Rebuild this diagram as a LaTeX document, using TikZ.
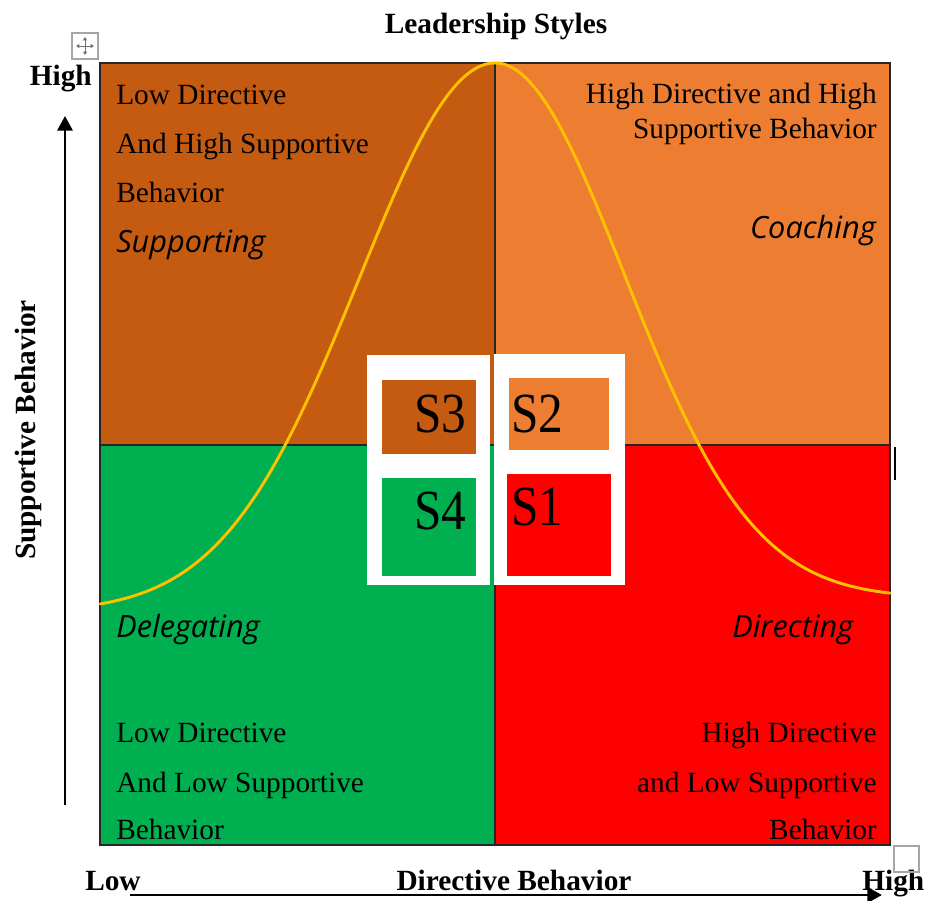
\documentclass[tikz,border=0pt]{standalone}
\usepackage{fontspec}
\setmainfont{Liberation Serif}
\newfontfamily\handfont{Open Sans}
\usetikzlibrary{arrows.meta}
\definecolor{qbrown}{HTML}{C55A11}
\definecolor{qorange}{HTML}{ED7D31}
\definecolor{qgreen}{HTML}{00B050}
\definecolor{qred}{HTML}{FF0000}
\definecolor{curvegold}{HTML}{FFC000}
\begin{document}
\begin{tikzpicture}[x=0.75pt,y=-0.75pt,
  body/.style={inner sep=0pt, font=\fontsize{22}{26}\selectfont},
  hand/.style={inner sep=0pt, font=\handfont\itshape\fontsize{23}{27}\selectfont},
  axislabel/.style={inner sep=0pt, font=\bfseries\fontsize{22}{26}\selectfont},
  slabel/.style={inner sep=0pt, font=\fontsize{37}{41}\selectfont},
  frame/.style={draw=black!85, line width=1pt},
  bell/.style={curvegold, line width=2.2pt, line cap=round},
  axisarrow/.style={line width=1.7pt, -{Triangle[length=11pt,width=11.5pt]}},
  handle/.style={draw=black!35, line width=0.8pt},
]
\useasboundingbox (0,0) rectangle (928,900);

% quadrant fills
\fill[qbrown]  (100,63)  rectangle (495,445);
\fill[qorange] (495,63)  rectangle (890,445);
\fill[qgreen]  (100,445) rectangle (495,845);
\fill[qred]    (495,445) rectangle (890,845);

% quadrant borders and dividers
\draw[frame] (100,63) rectangle (890,845);
\draw[frame] (495,63) -- (495,845);
\draw[frame] (100,445) -- (890,445);
\draw[line width=1.5pt] (895,447) -- (895,480);

% bell curve
\draw[bell] plot[domain=-3.95:0, samples=90, smooth]
  ({495+100*\x},{612-549*exp(-(\x*\x)/3.699)});
\draw[bell] plot[domain=0:3.95, samples=90, smooth]
  ({495+100*\x},{598-535*exp(-(\x*\x)/3.328)});

% style boxes S1..S4
\fill[white] (367,355) rectangle (490,585);
\fill[white] (494,354) rectangle (625,585);
\fill[qbrown]  (382,380) rectangle (476,454);
\fill[qgreen]  (382,478) rectangle (476,576);
\fill[qorange] (509,378) rectangle (609,450);
\fill[qred]    (507,474) rectangle (611,576);
\node[slabel, anchor=base west] (s3) at (414,432) {\scalebox{1}[1.15]{S3}};
\node[slabel, anchor=base west] (s2) at (511,432) {\scalebox{1}[1.15]{S2}};
\node[slabel, anchor=base west] (s4) at (414,529) {\scalebox{1}[1.15]{S4}};
\node[slabel, anchor=base west] (s1) at (511,525) {\scalebox{1}[1.15]{S1}};

% quadrant texts
\node[body, anchor=base west] (tl1) at (116,104) {Low Directive};
\node[body, anchor=base west] (tl2) at (116,153) {And High Supportive};
\node[body, anchor=base west] (tl3) at (116,202) {Behavior};
\node[hand, anchor=base west] (tlh) at (116,252) {Supporting};

\node[body, anchor=base east] (tr1) at (877,103) {High Directive and High};
\node[body, anchor=base east] (tr2) at (877,138) {Supportive Behavior};
\node[hand, anchor=base east] (trh) at (876,238) {Coaching};

\node[hand, anchor=base west] (blh) at (116,637) {Delegating};
\node[body, anchor=base west] (bl1) at (116,742) {Low Directive};
\node[body, anchor=base west] (bl2) at (116,792) {And Low Supportive};
\node[body, anchor=base west] (bl3) at (116,839) {Behavior};

\node[hand, anchor=base west] (brh) at (732,637) {Directing};
\node[body, anchor=base east] (br1) at (877,742) {High Directive};
\node[body, anchor=base east] (br2) at (877,792) {and Low Supportive};
\node[body, anchor=base east] (br3) at (877,839) {Behavior};

% titles and axes
\node[axislabel, anchor=base] (title) at (496,33) {Leadership Styles};
\node[axislabel, anchor=base east] (yhigh) at (92,85) {High};
\node[axislabel, rotate=90, anchor=base] (ylab) at (36,430) {Supportive Behavior};
\node[axislabel, anchor=base west] (xlow) at (85,890) {Low};
\node[axislabel, anchor=base] (xlab) at (514,890) {Directive Behavior};
\node[axislabel, anchor=base west] (xhigh) at (862,890) {High};

\coordinate (vtail) at (65,805);
\coordinate (vtip) at (65,116);
\draw[axisarrow] (vtail) -- (vtip);
\coordinate (htail) at (130,895);
\coordinate (htip) at (882,895);
\draw[axisarrow, line width=2.2pt] (htail) -- (htip);

% editor handles
\draw[handle] (72,33) rectangle (98,59);
\coordinate (hc) at (85,46);
\draw[black!55, line width=0.7pt, {Triangle[length=2.5pt,width=3pt]}-{Triangle[length=2.5pt,width=3pt]}] (76,46) -- (94,46);
\draw[black!55, line width=0.7pt, {Triangle[length=2.5pt,width=3pt]}-{Triangle[length=2.5pt,width=3pt]}] (85,37) -- (85,55);
\draw[handle] (894,846) rectangle (919,872);
\end{tikzpicture}
\end{document}
